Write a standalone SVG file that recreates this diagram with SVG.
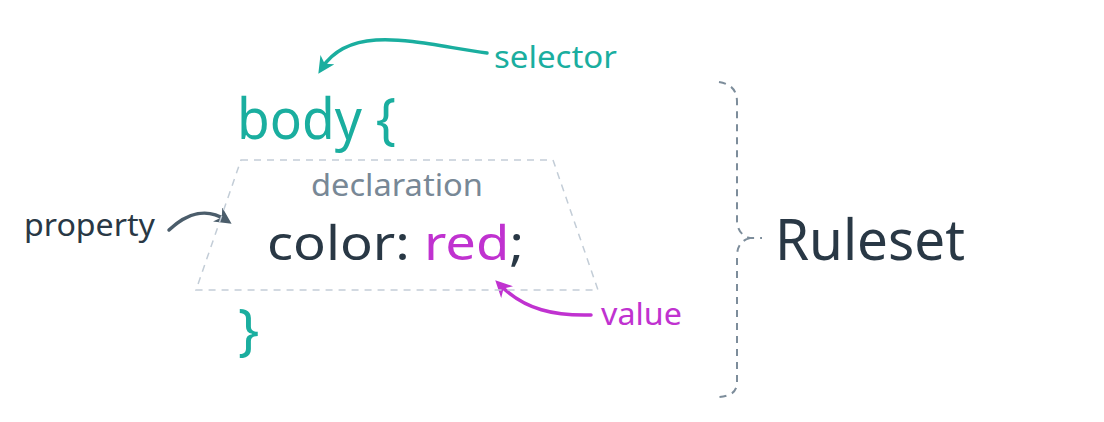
<svg xmlns="http://www.w3.org/2000/svg" width="1104" height="422" viewBox="0 0 1104 422">
<style>
text{font-family:"Noto Sans","DejaVu Sans",sans-serif;}
.teal{fill:#1aae9f;}
.dark{fill:#293845;}
.mag{fill:#c032d0;}
.gray{fill:#788896;}
.dash{fill:none;stroke:#c3cdd7;stroke-width:1.5;stroke-dasharray:7 6;}
.brace{fill:none;stroke:#7d8d9b;stroke-width:2;stroke-dasharray:7 6;}
</style>
<defs>
<marker id="ah-teal" viewBox="0 0 10 10" refX="6" refY="5" markerWidth="4.8" markerHeight="4.8" orient="auto-start-reverse" markerUnits="strokeWidth"><path d="M0,0 L10,5 L0,10 L3,5 z" fill="#1aae9f"/></marker>
<marker id="ah-dark" viewBox="0 0 10 10" refX="6" refY="5" markerWidth="4.8" markerHeight="4.8" orient="auto-start-reverse" markerUnits="strokeWidth"><path d="M0,0 L10,5 L0,10 L3,5 z" fill="#4b5d6b"/></marker>
<marker id="ah-mag" viewBox="0 0 10 10" refX="6" refY="5" markerWidth="4.8" markerHeight="4.8" orient="auto-start-reverse" markerUnits="strokeWidth"><path d="M0,0 L10,5 L0,10 L3,5 z" fill="#c032d0"/></marker>
</defs>
<g id="connectors" fill="none" stroke-width="3.5" stroke-linecap="round">
<path d="M487,53 C420,44 352,22 322,68" stroke="#1aae9f" marker-end="url(#ah-teal)"/>
<path d="M169,230 C188,212 208,208 226,220" stroke="#4b5d6b" marker-end="url(#ah-dark)"/>
<path d="M591,315 C555,316 525,310 500,285" stroke="#c032d0" marker-end="url(#ah-mag)"/>
</g>
<g id="selector-code"><text x="237" y="139" font-size="56" class="teal" textLength="159" lengthAdjust="spacingAndGlyphs">body {</text></g>
<g id="selector-label"><text x="494" y="68" font-size="30" class="teal" textLength="123" lengthAdjust="spacingAndGlyphs">selector</text></g>
<g id="declaration">
<path class="dash" d="M241,160 L553,160 L598,290 L196,290 Z"/>
<text x="311" y="196" font-size="30" class="gray" textLength="172" lengthAdjust="spacingAndGlyphs">declaration</text>
<text x="267" y="260" font-size="48" textLength="257" lengthAdjust="spacingAndGlyphs"><tspan class="dark">color: </tspan><tspan class="mag">red</tspan><tspan class="dark">;</tspan></text>
</g>
<g id="property-label"><text x="24" y="236" font-size="30" class="dark" textLength="131" lengthAdjust="spacingAndGlyphs">property</text></g>
<g id="value-label"><text x="601" y="325" font-size="30" class="mag" textLength="81" lengthAdjust="spacingAndGlyphs">value</text></g>
<g id="closing-brace"><text x="238" y="350" font-size="56" class="teal">}</text></g>
<g id="ruleset">
<path class="brace" d="M719,82 C731,84 737,90 737,102 L737,220 C737,230 742,236 750,238 L762,238 M750,238 C742,240 737,246 737,256 L737,382 C737,392 731,396 719,397"/>
<text x="775" y="260" font-size="57" class="dark" textLength="190" lengthAdjust="spacingAndGlyphs">Ruleset</text>
</g>
</svg>
